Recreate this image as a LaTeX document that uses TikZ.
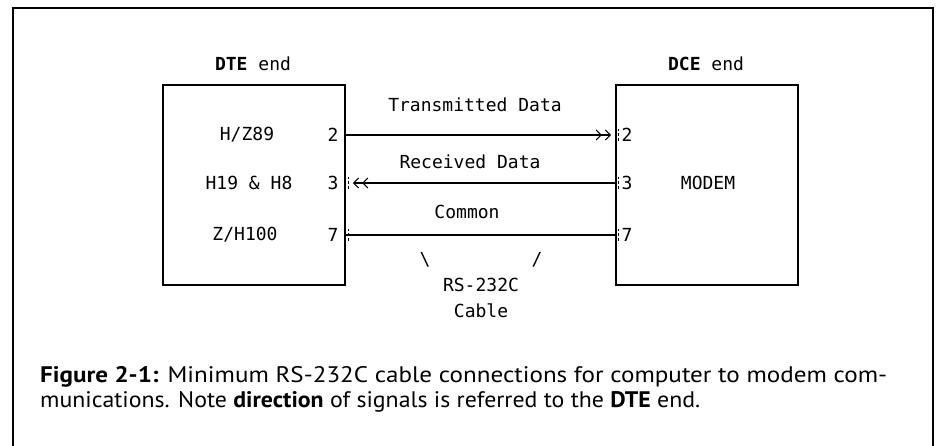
\documentclass[tikz,border=0pt]{standalone}
\usepackage{fontspec}
\setmainfont{PT Sans}
\newfontfamily\dotfont{DejaVu Sans Mono}
\newfontfamily\capfont{PT Sans}
\usetikzlibrary{arrows.meta}
\begin{document}
\begin{tikzpicture}[x=1pt,y=-1pt,
  lbl/.style={font=\dotfont\fontsize{18}{20}\selectfont, inner sep=0pt},
  unit/.style={draw, line width=1.8pt, minimum width=182pt, minimum height=200pt, inner sep=0pt},
  wire/.style={line width=1.3pt},
  dblarrow/.style={wire, -{Straight Barb[length=5pt,width=10pt,line width=1pt,sep=3pt] Straight Barb[length=5pt,width=10pt,line width=1pt]}},
  pintick/.style={line width=1pt, dash pattern=on 3pt off 2pt},
  frame/.style={line width=1.4pt},
  captext/.style={font=\capfont\fontsize{22.5}{26}\selectfont, inner sep=0pt, anchor=base west}]
\useasboundingbox (0,0) rectangle (939,446);
% outer frame
\draw[frame] (13,446) -- (13,8) -- (933,8) -- (933,446);
% units
\node[unit] (dtebox) at (254,185) {};
\node[unit] (dcebox) at (707,185) {};
\node[lbl] (dtehead) at (253,64) {\textbf{DTE} end};
\node[lbl] (dcehead) at (706,64) {\textbf{DCE} end};
% DTE side labels
\node[lbl] (hz89) at (247,135) {H/Z89};
\node[lbl] (h19) at (249,183) {H19 \& H8};
\node[lbl] (zh100) at (245,235) {Z/H100};
\node[lbl] (p2l) at (333,135) {2};
\node[lbl] (p3l) at (333,183) {3};
\node[lbl] (p7l) at (333,235) {7};
% DCE side labels
\node[lbl] (p2r) at (627,135) {2};
\node[lbl] (p3r) at (627,183) {3};
\node[lbl] (p7r) at (627,235) {7};
\node[lbl] (modem) at (708,183) {MODEM};
% pin ticks
\draw[pintick] ([xshift=3pt,yshift=-6pt]dtebox.east |- p3l) -- ([xshift=3pt,yshift=6pt]dtebox.east |- p3l);
\draw[pintick] ([xshift=3pt,yshift=-6pt]dtebox.east |- p7l) -- ([xshift=3pt,yshift=6pt]dtebox.east |- p7l);
\draw[pintick] ([xshift=3pt,yshift=-6pt]dcebox.west |- p2r) -- ([xshift=3pt,yshift=6pt]dcebox.west |- p2r);
\draw[pintick] ([xshift=3pt,yshift=-6pt]dcebox.west |- p3r) -- ([xshift=3pt,yshift=6pt]dcebox.west |- p3r);
\draw[pintick] ([xshift=3pt,yshift=-6pt]dcebox.west |- p7r) -- ([xshift=3pt,yshift=6pt]dcebox.west |- p7r);
% wires
\draw[dblarrow] (dtebox.east |- p2l) -- ([xshift=-4pt]dcebox.west |- p2r);
\draw[dblarrow] (dcebox.west |- p3r) -- ([xshift=7pt]dtebox.east |- p3l);
\draw[wire] (dtebox.east |- p7l) -- (dcebox.west |- p7r);
% wire labels
\node[lbl] (txd) at (475,105) {Transmitted Data};
\node[lbl] (rxd) at (470,162) {Received Data};
\node[lbl] (com) at (467,212) {Common};
\node[lbl] (bs) at (425,260) {\textbackslash};
\node[lbl] (sl) at (537,260) {/};
\node[lbl] (rs) at (481,285) {RS-232C};
\node[lbl] (cab) at (481,311) {Cable};
% caption
\node[captext] (cap1) at (40,382) {\resizebox{847pt}{\height}{\textbf{Figure 2-1:} Minimum RS-232C cable connections for computer to modem com-}};
\node[captext] (cap2) at (40,407) {\resizebox{660pt}{\height}{munications. Note \textbf{direction} of signals is referred to the \textbf{DTE} end.}};
\end{tikzpicture}
\end{document}
